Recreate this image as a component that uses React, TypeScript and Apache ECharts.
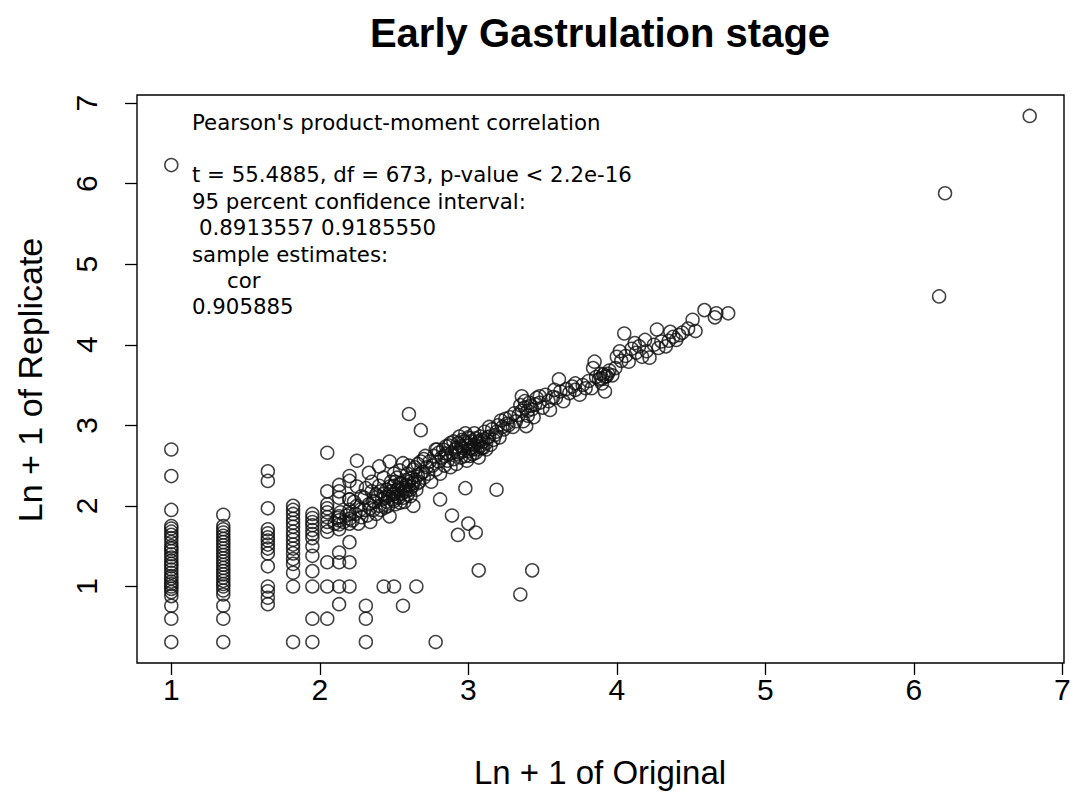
import React, { useEffect, useRef } from "react";
import * as echarts from "echarts";

// ---- data ----
const xTicks = [1, 2, 3, 4, 5, 6, 7];
const yTicks = [1, 2, 3, 4, 5, 6, 7];

// vertical strips at discrete x values
const stripX = [1.0, 1.35, 1.65, 1.82, 1.95, 2.05, 2.13, 2.2];
const strip100 = [2.7, 2.37, 1.95, 1.75, 1.72, 1.68, 1.64, 1.6, 1.55, 1.5, 1.47, 1.44, 1.4, 1.36, 1.32, 1.28, 1.25, 1.21, 1.17, 1.13, 1.1, 1.06, 1.03, 1.0, 0.97, 0.93, 0.88, 0.76, 0.6, 0.31];
const strip135 = [1.89, 1.75, 1.71, 1.67, 1.63, 1.59, 1.55, 1.51, 1.47, 1.43, 1.39, 1.35, 1.31, 1.27, 1.23, 1.19, 1.15, 1.11, 1.07, 1.03, 1.0, 0.95, 0.9, 0.76, 0.6, 0.31];
const strip165 = [2.43, 2.31, 1.97, 1.71, 1.66, 1.61, 1.57, 1.52, 1.47, 1.41, 1.25, 1.0, 0.94, 0.86, 0.78];
const strip182 = [2.0, 1.95, 1.9, 1.84, 1.79, 1.74, 1.68, 1.63, 1.58, 1.52, 1.47, 1.41, 1.34, 1.28, 1.17, 1.0, 0.31];
const strip195 = [1.9, 1.85, 1.8, 1.76, 1.7, 1.65, 1.6, 1.5, 1.38, 1.19, 1.0, 0.6, 0.31];
const strip205 = [2.66, 2.18, 2.02, 1.97, 1.92, 1.86, 1.8, 1.74, 1.68, 1.3, 1.0, 0.6];
const strip213 = [2.26, 2.18, 2.1, 1.87, 1.82, 1.77, 1.71, 1.42, 1.3, 1.0, 0.78];
const strip220 = [2.37, 2.31, 2.08, 1.9, 1.84, 1.78, 1.55, 1.3, 1.0];
const stripY = [strip100, strip135, strip165, strip182, strip195, strip205, strip213, strip220];

// main diagonal band [x, y]
const bandPoints = [
  [2.1, 1.78], [2.12, 1.85], [2.14, 1.92], [2.16, 1.8], [2.18, 1.88], [2.2, 1.95], [2.22, 1.82], [2.24, 1.9], [2.25, 2.0], [2.26, 1.78],
  [2.28, 1.86], [2.3, 1.95], [2.3, 2.1], [2.32, 1.88], [2.33, 2.02], [2.33, 2.41], [2.34, 1.8], [2.35, 2.18], [2.36, 1.95], [2.37, 2.05],
  [2.38, 1.9], [2.39, 2.12], [2.4, 2.0], [2.4, 2.25], [2.4, 2.49], [2.41, 1.95], [2.42, 2.08], [2.43, 2.15], [2.44, 1.98], [2.45, 2.05],
  [2.45, 2.2], [2.46, 2.12], [2.47, 1.87], [2.47, 2.55], [2.48, 2.18], [2.48, 2.3], [2.49, 2.08], [2.5, 2.15], [2.5, 2.25], [2.51, 2.02],
  [2.52, 2.2], [2.52, 2.35], [2.53, 2.1], [2.54, 2.28], [2.55, 2.15], [2.56, 2.53], [2.56, 2.22], [2.57, 2.05], [2.58, 2.32], [2.58, 2.18],
  [2.59, 2.4], [2.6, 2.25], [2.61, 2.12], [2.62, 2.35], [2.63, 2.28], [2.63, 2.45], [2.64, 2.48], [2.65, 2.2], [2.66, 2.38], [2.67, 2.3],
  [2.68, 2.55], [2.69, 2.42], [2.7, 2.35], [2.71, 2.62], [2.72, 2.48], [2.73, 2.4], [2.74, 2.55], [2.75, 2.3], [2.76, 2.5], [2.77, 2.62],
  [2.78, 2.45], [2.78, 2.7], [2.79, 2.7], [2.8, 2.55], [2.81, 2.4], [2.82, 2.6], [2.83, 2.7], [2.84, 2.5], [2.85, 2.65], [2.85, 2.74],
  [2.86, 2.56], [2.87, 2.75], [2.88, 2.48], [2.89, 2.66], [2.9, 2.58], [2.9, 2.8], [2.91, 2.7], [2.92, 2.52], [2.93, 2.64], [2.94, 2.86],
  [2.95, 2.74], [2.95, 2.6], [2.96, 2.82], [2.97, 2.68], [2.98, 2.9], [2.99, 2.56], [3.0, 2.75], [3.0, 2.85], [3.01, 2.62], [3.02, 2.8],
  [3.03, 2.7], [3.04, 2.9], [3.05, 2.66], [3.06, 2.78], [3.07, 2.6], [3.08, 2.86], [3.09, 2.72], [3.1, 2.8], [3.11, 2.92], [3.12, 2.7],
  [3.13, 2.85], [3.15, 2.76], [3.16, 2.95], [3.18, 2.88], [3.2, 3.0], [3.21, 2.85], [3.22, 3.06], [3.24, 2.95], [3.26, 3.02], [3.28, 3.1],
  [3.3, 2.98], [3.32, 3.05], [3.34, 3.13], [3.35, 3.25], [3.36, 3.36], [3.37, 3.05], [3.38, 3.3], [3.39, 2.99], [3.4, 3.18], [3.42, 3.24],
  [3.44, 3.1], [3.46, 3.34], [3.48, 3.28], [3.5, 3.22], [3.52, 3.38], [3.54, 3.3], [3.55, 3.19], [3.57, 3.35], [3.59, 3.34], [3.61, 3.57],
  [3.62, 3.42], [3.64, 3.3], [3.66, 3.45], [3.68, 3.4], [3.7, 3.48], [3.72, 3.44], [3.75, 3.38], [3.77, 3.5], [3.79, 3.46], [3.81, 3.55],
  [3.83, 3.46], [3.84, 3.71], [3.85, 3.79], [3.86, 3.6], [3.88, 3.57], [3.89, 3.64], [3.9, 3.52], [3.92, 3.42], [3.93, 3.61], [3.95, 3.68],
  [3.97, 3.62], [3.99, 3.71], [4.0, 3.85], [4.02, 3.92], [4.03, 3.8], [4.05, 4.14], [4.06, 3.86], [4.08, 3.79], [4.1, 3.95], [4.13, 3.9],
  [4.15, 3.98], [4.17, 3.85], [4.19, 4.06], [4.2, 3.92], [4.22, 3.84], [4.25, 4.0], [4.27, 4.19], [4.28, 3.96], [4.3, 4.04], [4.33, 3.98],
  [4.35, 4.05], [4.38, 4.1], [4.4, 4.06], [4.42, 4.12], [4.44, 4.15], [4.48, 4.2], [4.51, 4.31], [4.53, 4.17], [4.59, 4.43], [4.66, 4.34],
  [4.67, 4.39], [4.75, 4.39],
];

// extra points in the densest clusters
const clusterPoints = [
  [2.44, 2.1], [2.46, 2.0], [2.47, 2.24], [2.49, 2.14], [2.5, 2.06], [2.51, 2.3], [2.52, 2.12], [2.53, 2.22], [2.54, 2.04], [2.55, 2.28],
  [2.56, 2.1], [2.57, 2.2], [2.58, 2.26], [2.59, 2.14], [2.6, 2.3], [2.61, 2.2], [2.62, 2.24], [2.64, 2.32], [2.66, 2.28], [2.68, 2.4],
  [2.92, 2.72], [2.93, 2.78], [2.94, 2.66], [2.96, 2.72], [2.97, 2.8], [2.98, 2.62], [2.99, 2.78], [3.0, 2.68], [3.01, 2.84], [3.02, 2.72],
  [3.03, 2.64], [3.04, 2.76], [3.05, 2.84], [3.06, 2.7], [3.07, 2.8], [3.08, 2.74], [3.09, 2.82], [3.1, 2.72], [3.12, 2.78], [3.14, 2.86],
  [3.36, 3.18], [3.38, 3.22], [3.4, 3.12], [3.41, 3.28], [3.43, 3.2], [3.45, 3.26], [3.9, 3.58], [3.91, 3.63], [3.92, 3.6], [3.94, 3.64],
  [2.36, 2.06], [2.38, 2.14], [2.41, 2.18], [2.34, 1.97], [2.27, 1.95], [2.23, 2.05], [3.17, 2.82], [3.19, 2.92], [3.23, 2.98], [3.27, 3.0],
  [2.28, 2.12], [2.31, 2.22], [2.35, 2.3], [2.43, 2.35], [2.5, 2.4], [2.54, 2.44], [2.6, 2.5], [2.66, 2.52], [2.7, 2.58], [2.8, 2.66],
  [2.84, 2.62], [2.88, 2.78], [3.14, 2.98], [3.25, 3.08], [3.31, 3.15], [3.48, 3.36], [3.58, 3.44], [3.72, 3.52], [4.12, 4.02], [4.36, 4.16],
];

// scattered points below/above the band
const outlierPoints = [
  [2.31, 0.31], [2.78, 0.31], [2.31, 0.6], [2.31, 0.76], [2.56, 0.76], [3.35, 0.9], [2.43, 1.0], [2.5, 1.0], [2.65, 1.0], [3.07, 1.2],
  [3.43, 1.2], [2.93, 1.64], [3.0, 1.78], [3.05, 1.67], [2.89, 1.88], [2.81, 2.08], [2.98, 2.22], [3.19, 2.2], [2.63, 2.0], [2.6, 3.14],
  [2.68, 2.94], [2.25, 2.56], [2.25, 2.24], [2.2, 2.08],
];

// far points
const farPoints = [
  [1.0, 6.23], [6.17, 4.6], [6.21, 5.88], [6.78, 6.84],
];

const statLines = [
  "Pearson's product-moment correlation",
  "",
  "t = 55.4885, df = 673, p-value < 2.2e-16",
  "95 percent confidence interval:",
  "0.8913557 0.9185550",
  "sample estimates:",
  "cor",
  "0.905885",
];
const statIndent = [0, 0, 0, 0, 7, 0, 35, 0];

const titleText = "Early Gastrulation stage";
const xName = "Ln + 1 of Original";
const yName = "Ln + 1 of Replicate";

export default function App() {
  const ref = useRef<HTMLDivElement>(null);
  useEffect(() => {
    if (!ref.current) return;
    const chart = echarts.init(ref.current, null, { renderer: "svg" });
    const data: number[][] = [];
    stripX.forEach((x, i) => stripY[i].forEach((y) => data.push([x, y])));
    bandPoints.forEach((p) => data.push(p));
    clusterPoints.forEach((p) => data.push(p));
    outlierPoints.forEach((p) => data.push(p));
    farPoints.forEach((p) => data.push(p));

    const sans = "'Liberation Sans', Arial, Helvetica, sans-serif";
    const graphics: any[] = [
      {
        type: "text",
        x: 600,
        y: 33,
        style: { text: titleText, font: `bold 40px ${sans}`, fill: "#000", textAlign: "center", textVerticalAlign: "middle" },
      },
      {
        type: "text",
        x: 600,
        y: 772,
        style: { text: xName, font: `33px ${sans}`, fill: "#000", textAlign: "center", textVerticalAlign: "middle" },
      },
      {
        type: "text",
        x: 30,
        y: 380,
        rotation: Math.PI / 2,
        style: { text: yName, font: `34px ${sans}`, fill: "#000", textAlign: "center", textVerticalAlign: "middle" },
      },
    ];
    statLines.forEach((t, i) => {
      if (!t) return;
      graphics.push({
        type: "text",
        x: 192 + statIndent[i],
        y: 122 + i * 26.4,
        style: { text: t, font: `21.3px 'DejaVu Sans', sans-serif`, fill: "#000", textAlign: "left", textVerticalAlign: "middle" },
      });
    });

    chart.setOption({
      animation: false,
      backgroundColor: "#fff",
      grid: { left: 137, right: 12, top: 95, bottom: 134, show: true, borderColor: "#000", borderWidth: 1.4, backgroundColor: "transparent" },
      xAxis: {
        type: "value",
        min: 0.769,
        max: 7.011,
        splitLine: { show: false },
        axisLine: { show: false },
        axisTick: { show: true, customValues: xTicks, length: 12, lineStyle: { color: "#000", width: 1.3 } },
        axisLabel: { customValues: xTicks, fontSize: 30, color: "#000", margin: 11, fontFamily: sans },
      },
      yAxis: {
        type: "value",
        min: 0.05,
        max: 7.1,
        splitLine: { show: false },
        axisLine: { show: false },
        axisTick: { show: true, customValues: yTicks, length: 12, lineStyle: { color: "#000", width: 1.3 } },
        axisLabel: { customValues: yTicks, fontSize: 30, color: "#000", margin: 36, rotate: 90, fontFamily: sans },
      },
      series: [
        {
          type: "scatter",
          data,
          symbol: "circle",
          symbolSize: 13,
          itemStyle: { color: "rgba(0,0,0,0)", borderColor: "#111", borderWidth: 1.5 },
          silent: true,
        },
      ],
      graphic: graphics,
    });
    return () => chart.dispose();
  }, []);
  return <div ref={ref} style={{ position: "fixed", left: 0, top: 0, width: 1076, height: 797, background: "#fff" }} />;
}
